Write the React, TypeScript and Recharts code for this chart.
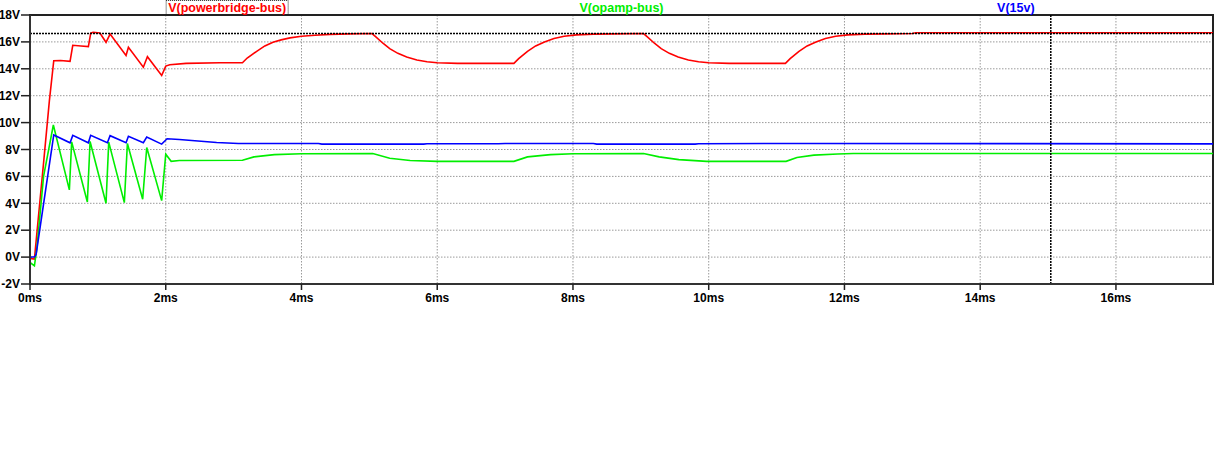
import React from 'react';
import { LineChart, Line, XAxis, YAxis, CartesianGrid, ReferenceLine, ReferenceArea } from 'recharts';

// ---- data (time in ms, voltage in V) ----
const X_MAX = 17.43;
const xTicks = [0, 2, 4, 6, 8, 10, 12, 14, 16];
const yTicks = [-2, 0, 2, 4, 6, 8, 10, 12, 14, 16, 18];
const seriesNames = ['V(powerbridge-bus)', 'V(opamp-bus)', 'V(15v)'];
const seriesColors = ['#ff0000', '#00ee00', '#0000ff'];
const cursorTime = 15.04;
const cursorVolt = 16.62;

const powerbridgeBus: [number, number][] = [
  [0, -0.1], [0.065, -0.15], [0.2, 7.0], [0.285, 11.6], [0.35, 14.6], [0.45, 14.62], [0.59, 14.55],
  [0.63, 15.75], [0.75, 15.7], [0.86, 15.65], [0.895, 16.65], [0.93, 16.72], [1.03, 16.66],
  [1.12, 15.97], [1.18, 16.58], [1.415, 14.99], [1.45, 15.6], [1.67, 14.12], [1.73, 14.9],
  [1.94, 13.5], [2.0, 14.2], [2.06, 14.3], [2.3, 14.4], [2.8, 14.45], [3.13, 14.45],
  [3.2, 14.8], [3.34, 15.3], [3.46, 15.7], [3.58, 15.98], [3.7, 16.15], [3.83, 16.3],
  [4.0, 16.42], [4.2, 16.5], [4.42, 16.56], [4.7, 16.6], [5.04, 16.62],
  [5.1, 16.35], [5.2, 15.9], [5.3, 15.5], [5.42, 15.15], [5.55, 14.88], [5.7, 14.65],
  [5.85, 14.52], [6.0, 14.45], [6.3, 14.4], [7.13, 14.4],
  [7.2, 14.75], [7.33, 15.3], [7.45, 15.7], [7.58, 16.0], [7.72, 16.25], [7.87, 16.42],
  [8.05, 16.52], [8.3, 16.58], [8.6, 16.6], [9.04, 16.62],
  [9.1, 16.35], [9.2, 15.9], [9.3, 15.5], [9.42, 15.15], [9.55, 14.88], [9.7, 14.65],
  [9.85, 14.52], [10.0, 14.45], [10.3, 14.4], [11.13, 14.4],
  [11.2, 14.75], [11.33, 15.3], [11.45, 15.7], [11.58, 16.0], [11.72, 16.25], [11.87, 16.42],
  [12.05, 16.52], [12.3, 16.58], [12.6, 16.6], [13.0, 16.62], [13.05, 16.68], [17.43, 16.68],
];

const opampBus: [number, number][] = [
  [0, -0.4], [0.065, -0.65], [0.1, 0.6], [0.2, 6.0], [0.344, 9.82], [0.58, 5.0], [0.614, 8.57],
  [0.845, 4.1], [0.885, 8.6], [1.12, 4.0], [1.16, 8.55], [1.39, 4.05], [1.435, 8.45],
  [1.66, 4.3], [1.72, 8.15], [1.94, 4.2], [2.0, 7.65], [2.08, 7.12], [2.2, 7.18], [3.13, 7.2],
  [3.3, 7.45], [3.6, 7.62], [4.0, 7.68], [5.05, 7.7], [5.3, 7.35], [5.6, 7.18], [6.0, 7.12],
  [7.13, 7.12], [7.33, 7.45], [7.67, 7.62], [8.0, 7.68], [9.04, 7.7], [9.27, 7.45],
  [9.56, 7.25], [9.97, 7.12], [11.14, 7.12], [11.3, 7.4], [11.55, 7.58], [11.9, 7.66],
  [12.13, 7.7], [17.43, 7.7],
];

const v15: [number, number][] = [
  [0, 0], [0.07, 0.02], [0.09, 0.2], [0.35, 9.08], [0.59, 8.5], [0.63, 9.05], [0.86, 8.5],
  [0.894, 9.05], [1.14, 8.5], [1.18, 9.03], [1.415, 8.5], [1.45, 8.98], [1.67, 8.5],
  [1.72, 8.92], [1.94, 8.4], [2.02, 8.8], [2.2, 8.74], [2.75, 8.52], [3.07, 8.45],
  [4.25, 8.45], [4.3, 8.4], [5.8, 8.4], [5.85, 8.43], [6.9, 8.43], [7.0, 8.45], [8.3, 8.45],
  [8.35, 8.4], [9.8, 8.4], [9.85, 8.43], [11.5, 8.45], [17.43, 8.42],
];

const toRows = (arr: [number, number][]) => arr.map(([t, v]) => ({ t, v }));
const seriesData = [toRows(powerbridgeBus), toRows(opampBus), toRows(v15)];

// ---- layout ----
const W = 1230;
const H = 467;
const PLOT_LEFT = 30;
const PLOT_RIGHT = 1213;
const PLOT_TOP = 15;
const PLOT_BOTTOM = 284;
const FONT = '"Liberation Sans", Arial, sans-serif';

const tickStyle = { fill: '#000', fontSize: 12, fontWeight: 'bold', fontFamily: FONT };

export default function App() {
  const plotW = PLOT_RIGHT - PLOT_LEFT;
  return (
    <div style={{ position: 'absolute', left: 0, top: 0, width: W, height: H, background: '#fff' }}>
      <LineChart
        width={W}
        height={H}
        margin={{ top: PLOT_TOP, right: W - PLOT_RIGHT, bottom: H - PLOT_BOTTOM - 30, left: 0 }}
      >
        <CartesianGrid stroke="#9a9a9a" strokeDasharray="1.5 1.5" strokeWidth={1} />
        <XAxis
          type="number"
          dataKey="t"
          domain={[0, X_MAX]}
          ticks={xTicks}
          interval={0}
          allowDataOverflow
          height={30}
          tickSize={6}
          tickMargin={3}
          tickFormatter={(v: number) => `${v}ms`}
          axisLine={{ stroke: '#333', strokeWidth: 2 }}
          tickLine={{ stroke: '#222', strokeWidth: 1.5 }}
          tick={tickStyle}
        />
        <YAxis
          type="number"
          domain={[-2, 18]}
          ticks={yTicks}
          interval={0}
          allowDataOverflow
          width={PLOT_LEFT}
          tickSize={9}
          tickMargin={1}
          tickFormatter={(v: number) => `${v}V`}
          axisLine={{ stroke: '#333', strokeWidth: 2 }}
          tickLine={{ stroke: '#222', strokeWidth: 1.5 }}
          tick={tickStyle}
        />
        {seriesData.map((d, i) => (
          <Line
            key={seriesNames[i]}
            data={d}
            dataKey="v"
            name={seriesNames[i]}
            type="linear"
            stroke={seriesColors[i]}
            strokeWidth={1.6}
            dot={false}
            activeDot={false}
            isAnimationActive={false}
          />
        ))}
        <ReferenceLine y={cursorVolt} stroke="#000" strokeDasharray="2 1" strokeWidth={1.5} />
        <ReferenceLine x={cursorTime} stroke="#000" strokeDasharray="2 1" strokeWidth={1.5} />
        <ReferenceArea
          x1={0}
          x2={X_MAX}
          y1={-2}
          y2={18}
          fill="none"
          fillOpacity={0}
          stroke="#222"
          strokeWidth={2}
          ifOverflow="visible"
        />
      </LineChart>
      <svg
        width={W}
        height={PLOT_TOP}
        style={{ position: 'absolute', left: 0, top: 0, overflow: 'visible' }}
      >
        <rect
          x={PLOT_LEFT + plotW / 6 - 61}
          y={0.5}
          width={122}
          height={PLOT_TOP - 0.5}
          fill="none"
          stroke="#222"
          strokeDasharray="1 1"
          strokeWidth={1}
        />
        {seriesNames.map((n, i) => (
          <text
            key={n}
            x={PLOT_LEFT + (plotW * (i + 0.5)) / 3}
            y={12}
            textAnchor="middle"
            fill={seriesColors[i]}
            style={{ fontFamily: FONT, fontSize: 12.5, fontWeight: 'bold' }}
          >
            {n}
          </text>
        ))}
      </svg>
    </div>
  );
}
